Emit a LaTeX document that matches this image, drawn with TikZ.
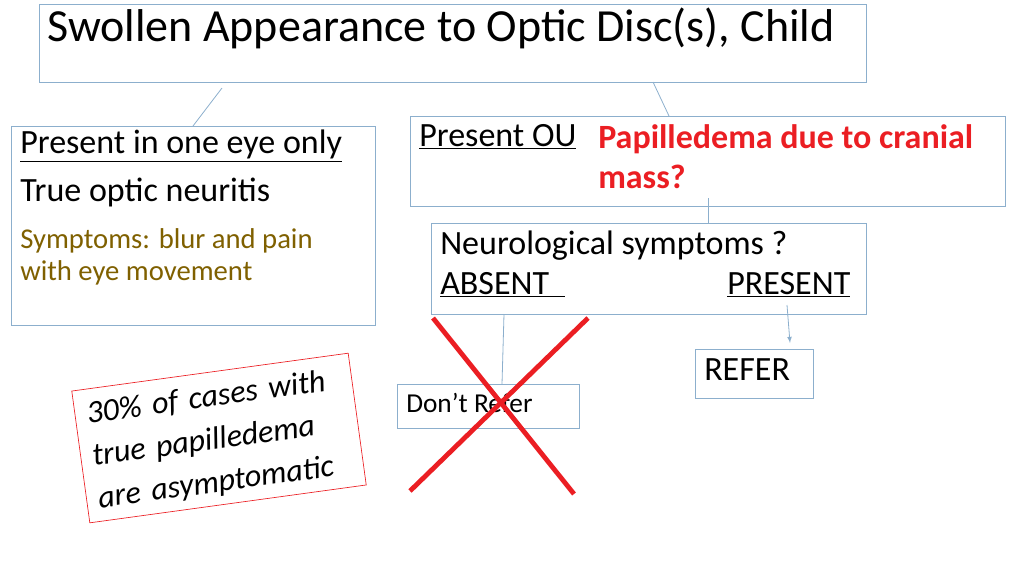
\documentclass[tikz,border=0pt]{standalone}
\usepackage{fontspec}
\setmainfont{Carlito}
\begin{document}
\begin{tikzpicture}[x=0.75pt,y=-0.75pt,
  box/.style={draw=boxc,line width=0.6pt,inner sep=0pt},
  txt/.style={anchor=north west,inner sep=0pt,align=left},
  big/.style={font=\fontsize{25.5}{30}\selectfont},
  conn/.style={draw=boxc,line width=0.6pt}]
\definecolor{boxc}{RGB}{140,175,205}
\definecolor{olive}{RGB}{127,96,0}
\definecolor{redx}{RGB}{235,30,35}
\useasboundingbox (0,0) rectangle (1024,576);
\node[box,minimum width=827*0.75pt,minimum height=78*0.75pt] (title) at (452.5,43) {};
\node[txt,font=\fontsize{34.5}{40}\selectfont] (tt) at (47,8) {Swollen Appearance to Optic Disc(s), Child};
\node[box,minimum width=364*0.75pt,minimum height=199*0.75pt] (left) at (193,225.5) {};
\node[txt,big] (l1) at (20,130) {\underline{Present in one eye only}};
\node[txt,big] (l2) at (20,178) {True optic neuritis};
\node[txt,font=\fontsize{21.5}{24}\selectfont,text=olive] (l3) at (20,228) {Symptoms: blur and pain\\with eye movement};
\node[box,minimum width=595*0.75pt,minimum height=90*0.75pt] (ou) at (707.5,161) {};
\node[txt,big] (o1) at (419,124) {\underline{Present OU}};
\node[txt,font=\fontsize{25.5}{30}\selectfont\bfseries,text=redx] (o2) at (598,124) {Papilledema due to cranial\\mass?};
\node[box,minimum width=435*0.75pt,minimum height=91*0.75pt] (neuro) at (648.5,268.5) {};
\node[txt,big] (n1) at (440,231) {Neurological symptoms ?};
\node[txt,big] (n2) at (440,272) {\underline{ABSENT\ \ }};
\node[txt,big] (n3) at (727,272) {\underline{PRESENT}};
\node[box,minimum width=118*0.75pt,minimum height=49*0.75pt] (refer) at (754,373.5) {};
\node[txt,big] (r1) at (704,358) {REFER};
\node[box,minimum width=182*0.75pt,minimum height=44*0.75pt] (dont) at (488,406) {};
\node[txt,font=\fontsize{20.5}{24}\selectfont] (d1) at (406,393) {Don’t Refer};
\coordinate (a1) at (222,88); \coordinate (a2) at (193,126);
\coordinate (b1) at (653,82); \coordinate (b2) at (669,116);
\coordinate (c1) at (708,198); \coordinate (c2) at (708,223);
\coordinate (d1c) at (504,314); \coordinate (d2c) at (502,384);
\coordinate (e1) at (787,305); \coordinate (e2) at (790,343);
\draw[conn] (a1) -- (a2);
\draw[conn] (b1) -- (b2);
\draw[conn] (c1) -- (c2);
\draw[conn] (d1c) -- (d2c);
\draw[conn,-latex] (e1) -- (e2);
\coordinate (x1) at (433,318); \coordinate (x2) at (574,494);
\coordinate (x3) at (588,318); \coordinate (x4) at (410,491);
\draw[redx,line width=3.6pt] (x1) -- (x2);
\draw[redx,line width=3.6pt] (x3) -- (x4);
\node[draw=redx,line width=0.5pt,rotate=7.8,minimum width=279*0.75pt,minimum height=133*0.75pt,inner sep=0pt] (note) at (219,438) {};
\node[rotate=7.8,align=left,text width=255*0.75pt,font=\fontsize{24}{32}\selectfont\itshape,inner sep=0pt] (notet) at (219,440) {30\% of cases with\\true papilledema\\are asymptomatic};
\end{tikzpicture}
\end{document}
